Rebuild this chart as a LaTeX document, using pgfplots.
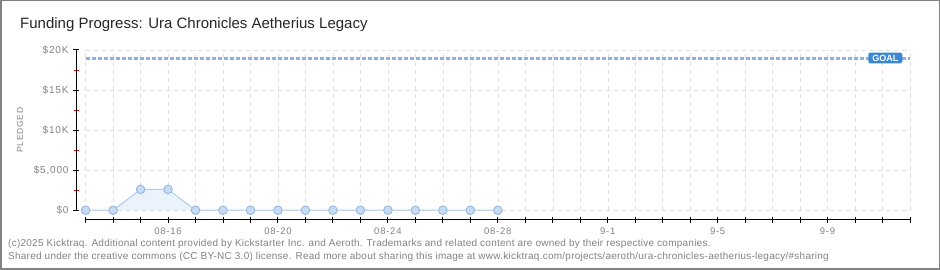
\documentclass[border=0pt]{standalone}
\usepackage{pgfplots}
\pgfplotsset{compat=1.18}
\usepackage{fontspec}
\setmainfont{Liberation Sans}
\newfontfamily\widefont[LetterSpace=8]{Liberation Sans}
\newfontfamily\footfont[LetterSpace=2.5]{Liberation Sans}
\definecolor{linec}{RGB}{176,204,238}
\definecolor{fillc}{RGB}{234,242,251}
\definecolor{markf}{RGB}{197,220,247}
\definecolor{markd}{RGB}{143,178,220}
\definecolor{goalc}{RGB}{140,178,228}
\definecolor{goalbox}{RGB}{58,135,212}
\definecolor{tickc}{RGB}{130,130,130}
\definecolor{gridc}{RGB}{222,222,222}
\begin{document}
\begin{tikzpicture}
\fill[white] (0pt,0pt) rectangle (940pt,270pt);
\draw[tickc, line width=1.5pt] (0.75pt,0.75pt) rectangle (939.25pt,269.25pt);
\node[anchor=base west, inner sep=0pt, font=\fontsize{15}{17}\selectfont, text=black!85] at (20pt,241pt) {Funding Progress: Ura Chronicles Aetherius Legacy};
\node[anchor=base west, inner sep=0pt, font=\footfont\fontsize{10}{12}\selectfont, text=tickc] at (8pt,23pt) {(c)2025 Kicktraq. Additional content provided by Kickstarter Inc. and Aeroth. Trademarks and related content are owned by their respective companies.};
\node[anchor=base west, inner sep=0pt, font=\footfont\fontsize{10}{12}\selectfont, text=tickc] at (8pt,10pt) {Shared under the creative commons (CC BY-NC 3.0) license. Read more about sharing this image at www.kicktraq.com/projects/aeroth/ura-chronicles-aetherius-legacy/\#sharing};
\node[rotate=90, font=\widefont\fontsize{8.5}{9}\selectfont, text=tickc] at (20pt,140pt) {PLEDGED};
\begin{axis}[
  at={(76pt,50pt)}, anchor=south west,
  scale only axis, width=834pt, height=170pt,
  xmin=-0.35, xmax=30, ymin=-1220, ymax=20000,
  axis x line*=bottom, axis y line*=left,
  x axis line style={draw=none}, y axis line style={draw=none},
  xtick={0,...,30},
  xticklabels={,,,08-16,,,,08-20,,,,08-24,,,,08-28,,,,9-1,,,,9-5,,,,9-9,,,},
  ytick={0,5000,10000,15000,20000},
  yticklabels={\$0,\$5{,}000,\$10K,\$15K,\$20K},
  scaled y ticks=false,
  minor ytick={2500,7500,12500,17500},
  tick align=center,
  major tick length=6pt, minor tick length=5pt,
  tick style={black, line width=1pt},
  minor tick style={red, line width=1pt},
  xticklabel style={font=\widefont\fontsize{9.5}{10}\selectfont, text=tickc, yshift=-1pt},
  yticklabel style={font=\widefont\fontsize{10}{10}\selectfont, text=tickc, xshift=-1pt},
  clip=false,
]
\pgfplotsinvokeforeach{0,...,30}{\draw[gridc, dash pattern=on 4pt off 4pt] (axis cs:#1,0) -- (axis cs:#1,20000);}
\pgfplotsinvokeforeach{0,5000,10000,15000,20000}{\draw[gridc, dash pattern=on 4pt off 4pt] (axis cs:0,#1) -- (axis cs:30,#1);}
\draw[black, line width=1pt] (axis cs:-0.35,0) -- (axis cs:-0.35,20000);
\draw[black, line width=1pt] (axis cs:0,-1220) -- (axis cs:30,-1220);
\addplot[goalc, line width=3pt, dash pattern=on 4pt off 2pt] coordinates {(0,19000) (30,19000)};
\node[fill=goalbox, text=white, rounded corners=1.5pt, font=\fontsize{9}{10}\selectfont\bfseries, inner xsep=4pt, inner ysep=2.2pt] at (axis cs:29.1,19000) {GOAL};
\addplot[fill=fillc, draw=none] coordinates {(0,0) (1,0) (2,2600) (3,2600) (4,0) (5,0) (6,0) (7,0) (8,0) (9,0) (10,0) (11,0) (12,0) (13,0) (14,0) (15,0)} \closedcycle;
\addplot[linec, line width=1pt, mark=*, mark size=4.3pt, mark options={fill=markf, draw=markd, line width=0.8pt}] coordinates {(0,0) (1,0) (2,2600) (3,2600) (4,0) (5,0) (6,0) (7,0) (8,0) (9,0) (10,0) (11,0) (12,0) (13,0) (14,0) (15,0)};
\end{axis}
\end{tikzpicture}
\end{document}
